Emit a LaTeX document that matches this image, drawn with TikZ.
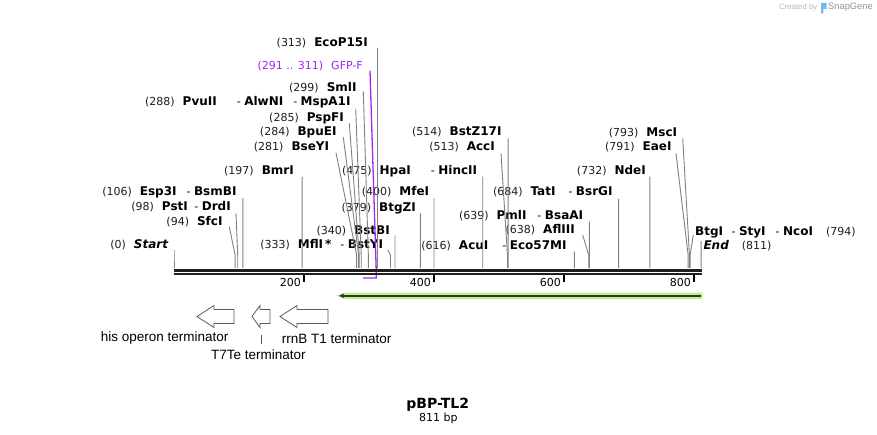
\documentclass[tikz,border=0pt]{standalone}
\usepackage{fontspec}
\setmainfont{DejaVu Sans}
\newfontfamily\arialf{Liberation Sans}
\usetikzlibrary{calc,arrows.meta}
\definecolor{cutgray}{RGB}{128,128,128}
\definecolor{gfp}{RGB}{160,40,240}
\definecolor{featgreen}{RGB}{190,240,140}
\definecolor{numcol}{RGB}{30,30,30}
\definecolor{termgray}{RGB}{90,90,90}
\definecolor{sgblue}{RGB}{110,185,240}
\newcommand\nm[1]{{\fontsize{12}{13}\selectfont\bfseries #1}}
\newcommand\num[1]{\textcolor{numcol}{(#1)}\hspace{8pt}}
\newcommand\sepr[1][9]{\hspace{#1pt}-\hspace{3.5pt}}
\newcommand\cutl[4]{%
  \coordinate (#1site) at ({174+0.65*#2},268);
  \draw[cut] ($(#1.east)+(#3,#4)$) -- ($(#1site)+(0,-13)$) -- (#1site);}
\newcommand\cutr[4]{%
  \coordinate (#1site) at ({174+0.65*#2},268);
  \draw[cut] ($(#1.west)+(#3,#4)$) -- ($(#1site)+(0,-13)$) -- (#1site);}
\tikzset{
  lbl/.style={inner sep=0pt, text height=8.4pt, text depth=0pt, font=\fontsize{11}{13}\selectfont},
  lblL/.style={lbl, anchor=east},
  lblR/.style={lbl, anchor=west},
  cut/.style={draw=cutgray, line width=0.9pt},
  barline/.style={draw=black!88, line width=2.4pt},
  tickm/.style={draw=black, line width=2pt},
  ticklbl/.style={inner sep=0pt, anchor=east, font=\fontsize{11}{13}\selectfont},
  term/.style={draw=termgray, fill=white, line width=0.8pt},
  featlbl/.style={inner sep=0pt, font=\arialf\fontsize{13.5}{15}\selectfont},
}
\begin{document}
\begin{tikzpicture}[x=1pt,y=-1pt]
\useasboundingbox[fill=white] (0,0) rectangle (877,435);

% ---- labels ----
\node[lblL] (eco) at (368,42.7) {\num{313}\nm{EcoP15I}};
\node[lblL,text=gfp] (gfp) at (363,65) {(291 .. 311)\hspace{8pt}GFP-F};
\node[lblL] (sml) at (356.7,87.3) {\num{299}\nm{SmlI}};
\node[lblL] (pvu) at (350.7,101.7) {\num{288}\nm{PvuII}\sepr[20]\nm{AlwNI}\sepr[10]\nm{MspA1I}};
\node[lblL] (psp) at (344,117.3) {\num{285}\nm{PspFI}};
\node[lblL] (bpu) at (336.7,131.7) {\num{284}\nm{BpuEI}};
\node[lblL] (bse) at (329.3,146.7) {\num{281}\nm{BseYI}};
\node[lblL] (bmr) at (294,170) {\num{197}\nm{BmrI}};
\node[lblL] (esp) at (236.7,191.7) {\num{106}\nm{Esp3I}\sepr[10]\nm{BsmBI}};
\node[lblL] (pst) at (231,206.7) {\num{98}\nm{PstI}\sepr[6.5]\nm{DrdI}};
\node[lblL] (sfc) at (222.7,221.7) {\num{94}\nm{SfcI}};
\node[lblL] (start) at (168.3,244.3) {\num{0}\nm{\itshape Start}};
\node[lblL] (bstb) at (390,230) {\num{340}\nm{BstBI}};
\node[lblL] (mfl) at (383.3,244.3) {\num{333}\nm{MflI\,*}\sepr[9]\nm{BstYI}};
\node[lblL] (btgz) at (416,207.3) {\num{379}\nm{BtgZI}};
\node[lblL] (mfe) at (429.3,191.7) {\num{400}\nm{MfeI}};
\node[lblL] (hpa) at (477.3,170) {\num{475}\nm{HpaI}\sepr[20]\nm{HincII}};
\node[lblL] (bstz) at (501.7,131.7) {\num{514}\nm{BstZ17I}};
\node[lblL] (acc) at (495,146.7) {\num{513}\nm{AccI}};
\node[lblL] (tat) at (612.7,191.7) {\num{684}\nm{TatI}\sepr[13]\nm{BsrGI}};
\node[lblL] (pml) at (583.3,215) {\num{639}\nm{PmlI}\sepr[11]\nm{BsaAI}};
\node[lblL] (afl) at (575,229.3) {\num{638}\nm{AflIII}};
\node[lblL] (acu) at (566.7,245) {\num{616}\nm{AcuI}\sepr[14]\nm{Eco57MI}};
\node[lblL] (nde) at (646,170) {\num{732}\nm{NdeI}};
\node[lblL] (msc) at (677.3,132.7) {\num{793}\nm{MscI}};
\node[lblL] (eae) at (671.7,146.7) {\num{791}\nm{EaeI}};
\node[lblR] (btg) at (695,231.7) {\nm{BtgI}\sepr[8.4]\nm{StyI}\sepr[10]\nm{NcoI}\hspace{13pt}\textcolor{numcol}{(794)}};
\node[lblR] (end) at (703.3,245) {\nm{\itshape End}\hspace{13pt}\textcolor{numcol}{(811)}};

% ---- cut lines ----
\cutl{eco}{313}{9.45}{5.3}
\cutl{sml}{299}{6.6}{4.4}
\cutl{pvu}{288}{5}{7.3}
\cutl{psp}{285}{5.3}{6}
\cutl{bpu}{284}{6.6}{5.6}
\cutl{bse}{281}{6.7}{6}
\cutl{bmr}{197}{8.05}{7}
\cutl{esp}{106}{6.2}{6.5}
\cutl{pst}{98}{5}{6.6}
\cutl{sfc}{94}{6.6}{5}
\cutl{start}{0}{5.7}{5.7}
\cutl{bstb}{340}{5}{5.5}
\cutl{mfl}{333}{4.4}{5.7}
\cutl{btgz}{379}{4.35}{6}
\cutl{mfe}{400}{4.7}{6.5}
\cutl{hpa}{475}{5.45}{6.7}
\cutl{bstz}{514}{6.4}{6.6}
\cutl{acc}{513}{6}{6.6}
\cutl{tat}{684}{5.9}{7.3}
\cutl{pml}{639}{6.05}{6.7}
\cutl{afl}{638}{7.7}{5.7}
\cutl{acu}{616}{7.7}{6.7}
\cutl{nde}{732}{3.8}{6.7}
\cutl{msc}{793}{5.4}{5.6}
\cutl{eae}{791}{4.3}{6.6}
\cutr{btg}{794}{-1.7}{3.3}
\cutr{end}{811}{-2.15}{-4}

% ---- primer GFP-F ----
\coordinate (gfpsite) at (376.15,268);
\coordinate (gfpend) at (363.2,278);
\draw[draw=gfp, line width=1.3pt] ($(gfp.east)+(7,5.7)$) -- (gfpsite) -- (gfpsite |- gfpend) -- (gfpend);

% ---- backbone ----
\draw[barline] (174,270.5) -- (702,270.5);
\draw[barline] (174,274.2) -- (702,274.2);

% ---- ruler ----
\foreach \v/\xx in {200/304,400/434,600/564,800/694}{
  \draw[tickm] (\xx,275) -- (\xx,282.5);
  \node[ticklbl] (t\v) at (\xx-3,282) {\v};
}

% ---- feature (green) ----
\fill[featgreen] (702.5,292.6) -- (346,292.6) -- (336,295.8) -- (346,299) -- (702.5,299) -- cycle;
\draw[draw=black!80, line width=1.8pt, -{Latex[length=5pt,width=5pt]}] (701,295.8) -- (338.5,295.8);

% ---- terminators ----
\draw[term] (197,316.5) -- (214,305.5) -- (214,309.5) -- (234,309.5) -- (234,323.5) -- (214,323.5) -- (214,327.5) -- cycle;
\draw[term] (252,316.5) -- (260,305.5) -- (260,309.5) -- (270,309.5) -- (270,323.5) -- (260,323.5) -- (260,327.5) -- cycle;
\draw[term] (280,316.5) -- (297,305.5) -- (297,309.5) -- (328,309.5) -- (328,323.5) -- (297,323.5) -- (297,327.5) -- cycle;
\node[featlbl] (his) at (164.7,338.3) {his operon terminator};
\node[featlbl] (rrnb) at (336.7,338.3) {rrnB T1 terminator};
\node[featlbl] (t7te) at (258.3,354.3) {T7Te terminator};
\coordinate (t7tick) at (261,335);
\draw[draw=termgray, line width=0.7pt] (t7tick) -- (261,344);

% ---- title ----
\node[inner sep=0pt, font=\bfseries\fontsize{14}{16}\selectfont] (title) at (437.8,404.5) {pBP-TL2};
\node[inner sep=0pt, font=\fontsize{11}{13}\selectfont] (bp) at (438.3,418.3) {811 bp};

% ---- watermark ----
\node[inner sep=0pt, anchor=east, text=black!28, font=\arialf\fontsize{7.8}{9}\selectfont] (cby) at (817.5,7.5) {Created by};
\fill[sgblue] (821,3) rectangle (826.5,9) (821,9) rectangle (823.3,13.5);
\node[inner sep=0pt, anchor=west, text=black!42, font=\arialf\fontsize{9.3}{11}\selectfont] (sg) at (828,7.5) {SnapGene};
\end{tikzpicture}
\end{document}
